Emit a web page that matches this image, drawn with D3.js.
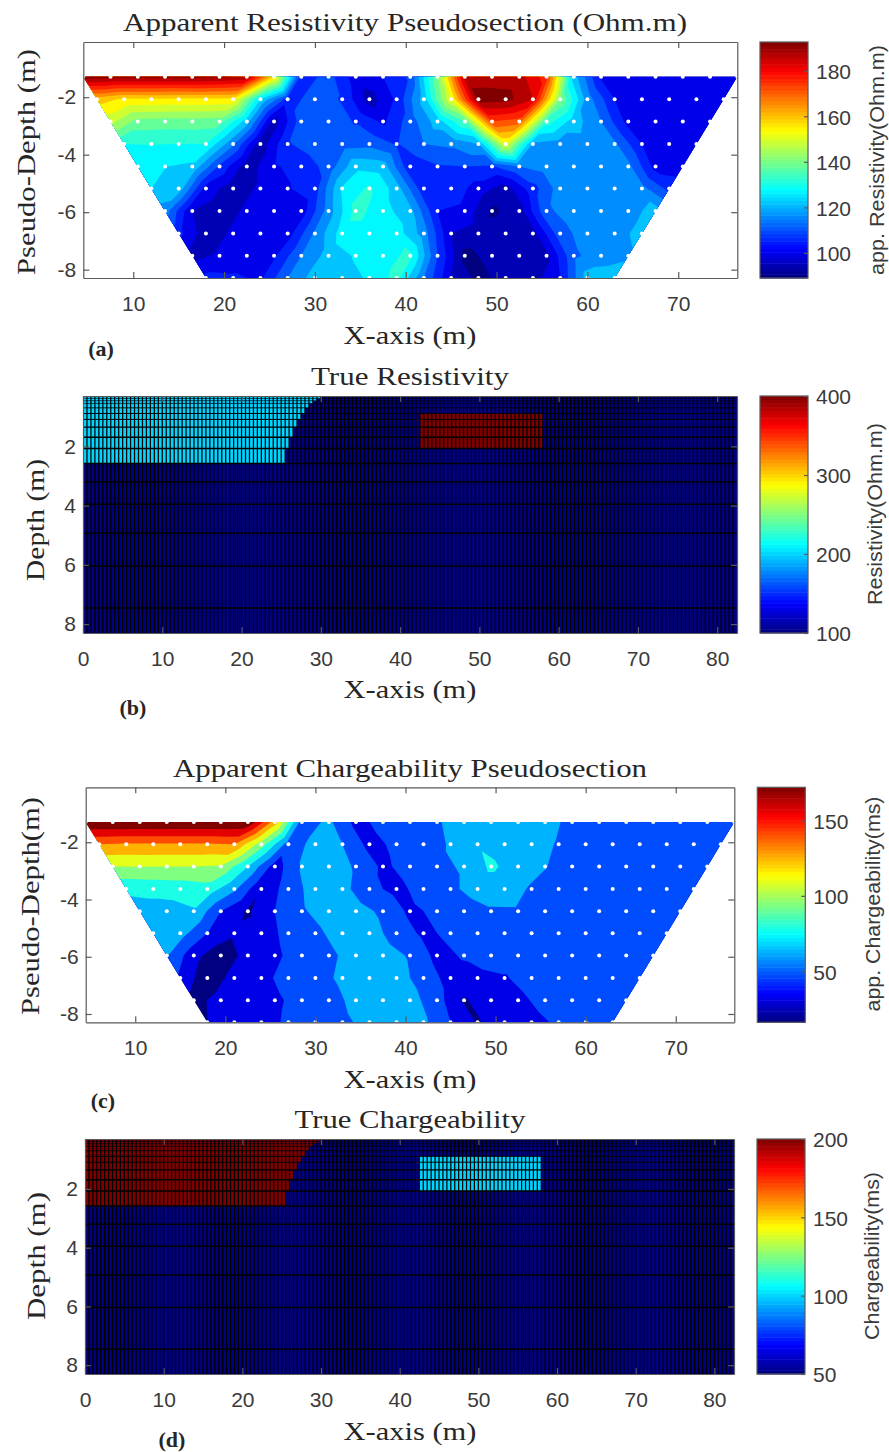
<!DOCTYPE html>
<html>
<head>
<meta charset="utf-8">
<script src="https://cdn.jsdelivr.net/npm/d3@7"></script>
<style>
  html, body { margin: 0; background: #fff; }
  svg { display: block; }
  .tick text { font-family: "Liberation Sans", sans-serif; font-size: 21px; fill: #3a3a3a; }
  .tick line, .domain { stroke: #5a5a5a; stroke-width: 1.2px; }
</style>
</head>
<body>
<div id="chart"></div>
<script>
// pseudosection rows: row i starts at pseudoStart[i], stations every 3 m
const pseudoDepth = [-1.29, -2.07, -2.85, -3.63, -4.41, -5.18, -5.96, -6.74, -7.52, -8.29];
const pseudoStart = [4.5, 6, 7.5, 9, 10.5, 12, 13.5, 15, 16.5, 18];
const stationStep = 3;

const appResistivity = [
  [190.4, 189.4, 189.4, 189.2, 189.4, 188.8, 186.8, 156.6, 106.7, 111.9, 102, 104.6, 110.8, 141, 185.2, 185.4, 185, 174.8, 122.8, 103.6, 101, 100.8, 101.2, 101, 100.9],
  [159.2, 155.6, 155.8, 155.5, 155.6, 155, 125.4, 107.2, 112.4, 109.3, 96.8, 105.6, 122.8, 151.4, 190.4, 189.9, 182.6, 141, 117.6, 104.6, 101, 101.2, 100.9, 101],
  [148, 139, 138.5, 138.6, 138, 122.8, 96.8, 112.4, 112.9, 109.3, 103.6, 112.4, 122.8, 135.8, 172.2, 169.6, 133.2, 122.8, 115, 102.5, 101, 101.1, 104.1],
  [130.6, 130.8, 130.5, 130.6, 116, 96.3, 109.3, 112.9, 112.8, 113.4, 109.3, 115, 116, 120.2, 151.4, 119.2, 117.6, 117.8, 116, 104.6, 101.5, 104.1],
  [125.4, 125.5, 124.4, 108.8, 96.3, 104.1, 106.2, 111.9, 124, 122.8, 105.6, 109.3, 109.8, 109.3, 115, 117.6, 117.7, 117.4, 116.6, 102.5, 101.5],
  [125.4, 123.3, 102.5, 96.3, 100.4, 104.1, 107.7, 126, 131.6, 122.8, 106.2, 108.2, 102, 96.8, 107.7, 117.6, 117.8, 117.5, 116.6, 108.2],
  [117.6, 99.4, 96.3, 100.4, 100.5, 101.5, 117.6, 132.7, 127.5, 121.8, 104.6, 103, 93.2, 96.8, 114, 117.6, 117.7, 117.5, 122.8],
  [106.2, 96.3, 100.4, 100.5, 102, 116, 128, 128, 128.2, 117.6, 99.4, 96.8, 96.9, 97.3, 112.9, 117.6, 117.7, 122.3],
  [97.3, 100.4, 101, 103.6, 115, 122.3, 126, 128, 132.2, 109.8, 92.6, 95.8, 96.3, 97.8, 114, 117.6, 119.2],
  [106.2, 105.6, 103.6, 115, 122.8, 123.3, 126, 132.7, 115, 99.4, 92.6, 96.3, 96.8, 104.6, 122.8, 123.3]
];

const appChargeability = [
  [172, 172, 171.8, 172, 171.9, 171.6, 170.6, 122.4, 51.5, 61.4, 40.1, 48.6, 51.5, 57.1, 65.6, 65.5, 65.8, 64.2, 54.3, 51.5, 51.8, 51.3, 51.6, 51.4, 51.5],
  [129.4, 128, 128.1, 127.9, 128, 129.4, 94, 51.5, 62.8, 58.5, 40.1, 47.2, 51.5, 60, 71.5, 65.7, 65.4, 57.1, 51.5, 51.6, 51.8, 51.3, 51.5, 51.4],
  [101, 101.2, 101, 100.9, 99.7, 72.7, 37.3, 60, 65.6, 57.1, 41.5, 50, 55.7, 60, 75.5, 65.6, 59.2, 51.5, 51.7, 51.4, 51.5, 51.6, 51.3],
  [75.6, 77, 78.4, 81.2, 61.4, 31.6, 51.5, 64.2, 62.8, 48.6, 40.1, 50, 55.7, 64.2, 64.3, 57.1, 51.5, 51.7, 51.4, 51.6, 51.3, 51.5],
  [67, 67.2, 71.3, 44.4, 28, 44.4, 57.1, 64.2, 64.3, 55.7, 41.5, 47.2, 51.5, 57.1, 57.3, 51.5, 51.6, 51.4, 51.5, 51.7, 51.4],
  [62.8, 64.2, 44.4, 33, 37.3, 48.6, 55.7, 64.2, 64.4, 52.9, 41.5, 47.2, 51.5, 51.6, 51.4, 51.5, 51.7, 51.3, 51.5, 51.6],
  [60, 35, 20, 35.9, 41.5, 51.5, 55.7, 64.2, 64.4, 57.1, 40.1, 45.8, 51.5, 51.6, 51.4, 51.5, 51.7, 51.3, 51.5],
  [41.5, 20, 36, 40.1, 50, 52.9, 61.4, 64.2, 64.3, 52.9, 38.7, 40.1, 42.9, 51.5, 51.6, 51.4, 51.5, 51.7],
  [25, 35.9, 37.3, 41.5, 50, 52.9, 62.8, 65.6, 64.2, 50, 28.8, 37.3, 40.1, 50, 51.5, 51.6, 51.4],
  [30, 37.3, 37.4, 47.2, 51.5, 55.7, 62.8, 65.6, 61.4, 44.4, 28.8, 38.7, 38.9, 47.2, 51.5, 51.6]
];

// true model mesh
const meshDepth = [0.3, 0.38, 0.46, 0.55, 0.7, 0.89, 1.09, 1.35, 1.69, 2.07, 2.58, 3.2, 3.95, 4.93, 6.04, 7.46, 8.3];
const meshWidth = 0.5;
const meshRight = 82.5;
const blockEnd = [30, 29.5, 29, 28.5, 28, 27.5, 27, 26.5, 26, 25.5]; // right edge of the left block per layer
const bodyX = [42.5, 58];
const bodyLayers = [5, 8]; // first and last layer of the buried body

const resBackground = 100, resBlock = 200, resBody = 400;
const chgBackground = 50, chgBlock = 200, chgBody = 100;

const pseudoXTicks = [10, 20, 30, 40, 50, 60, 70];
const pseudoYTicks = [-2, -4, -6, -8];
const trueXTicks = [0, 10, 20, 30, 40, 50, 60, 70, 80];
const trueYTicks = [2, 4, 6, 8];

const W = 889, H = 1452;
const svg = d3.select("#chart").append("svg").attr("width", W).attr("height", H);
const clamp01 = t => Math.max(0, Math.min(1, t));

function jet(t) {
  const c = k => Math.round(255 * clamp01(1.5 - Math.abs(4 * t - k)));
  return d3.rgb(c(3), c(2), c(1)).formatHex();
}

function addText(str, x, y, o) {
  const t = svg.append("text").attr("x", x).attr("y", y).text(str)
    .attr("text-anchor", o.anchor || "middle")
    .attr("dominant-baseline", "central")
    .attr("font-family", o.family)
    .attr("font-size", o.size)
    .attr("fill", o.fill || "#262626");
  if (o.weight) t.attr("font-weight", o.weight);
  if (o.len) t.attr("textLength", o.len).attr("lengthAdjust", "spacingAndGlyphs");
  if (o.rotate) t.attr("transform", `rotate(-90,${x},${y})`);
}
const serif = "'Liberation Serif', serif";
const sans = "'Liberation Sans', sans-serif";

// box with inward ticks on all sides, MATLAB style
function drawAxes(g, x, y, xTicks, yTicks) {
  const [x0, x1] = x.range(), [y0, y1] = y.range();
  g.append("g").attr("transform", `translate(0,${y1})`)
    .call(d3.axisBottom(x).tickValues(xTicks).tickSize(-6).tickPadding(18).tickSizeOuter(0).tickFormat(String));
  g.append("g").attr("transform", `translate(0,${y0})`)
    .call(d3.axisTop(x).tickValues(xTicks).tickSize(-6).tickSizeOuter(0).tickFormat(""));
  g.append("g").attr("transform", `translate(${x0},0)`)
    .call(d3.axisLeft(y).tickValues(yTicks).tickSize(-6).tickPadding(7).tickSizeOuter(0).tickFormat(String));
  g.append("g").attr("transform", `translate(${x1},0)`)
    .call(d3.axisRight(y).tickValues(yTicks).tickSize(-6).tickSizeOuter(0).tickFormat(""));
  g.selectAll(".domain").attr("fill", "none");
}

function colorbar(box, domain, ticks, label, labelX, labelY, labelLen) {
  const g = svg.append("g");
  const y = d3.scaleLinear().domain(domain).range([box.bottom, box.top]);
  const steps = d3.range(64);
  const band = d3.scaleBand().domain(steps).range([box.bottom, box.top]);
  g.selectAll("rect").data(steps).join("rect")
    .attr("x", box.left).attr("width", box.right - box.left)
    .attr("y", d => band(d)).attr("height", band.bandwidth() + 0.5)
    .attr("fill", d => jet((d + 0.5) / 64));
  g.append("rect").attr("x", box.left).attr("y", box.top)
    .attr("width", box.right - box.left).attr("height", box.bottom - box.top)
    .attr("fill", "none").attr("stroke", "#5a5a5a").attr("stroke-width", 1.2);
  const axis = g.append("g").attr("transform", `translate(${box.right},0)`)
    .call(d3.axisRight(y).tickValues(ticks).tickSize(-4).tickPadding(8).tickSizeOuter(0).tickFormat(String));
  axis.select(".domain").remove();
  axis.selectAll("text").attr("dy", "0.38em");
  addText(label, labelX, labelY, { family: sans, size: 20, rotate: true, fill: "#3a3a3a", len: labelLen });
}

// filled contours on the triangulated stations: one path per level, painted low to high
function clipAbove(tri, level) {
  const out = [];
  tri.forEach((p, i) => {
    const q = tri[(i + 1) % 3];
    if (p[2] >= level) out.push(p);
    if ((p[2] >= level) !== (q[2] >= level)) {
      const t = (level - p[2]) / (q[2] - p[2]);
      out.push([p[0] + t * (q[0] - p[0]), p[1] + t * (q[1] - p[1]), level]);
    }
  });
  return out;
}

function pseudosection(box, values, levelMin, levelMax, bands) {
  const x = d3.scaleLinear().domain([4.5, 76.5]).range([box.left, box.right]);
  const y = d3.scaleLinear().domain([-0.08, -8.29]).range([box.top, box.bottom]);
  const pts = [];
  values.forEach((row, i) => row.forEach((v, j) => {
    pts.push([x(pseudoStart[i] + stationStep * j), y(pseudoDepth[i]), v]);
  }));
  const tris = d3.Delaunay.from(pts).triangles;
  const g = svg.append("g");
  const clipId = "clip" + Math.round(box.top);
  g.append("clipPath").attr("id", clipId).append("rect")
    .attr("x", box.left).attr("y", box.top)
    .attr("width", box.right - box.left).attr("height", box.bottom - box.top);
  const step = (levelMax - levelMin) / bands;
  d3.range(bands).forEach(k => {
    const level = k === 0 ? -Infinity : levelMin + k * step;
    const path = d3.path();
    for (let t = 0; t < tris.length; t += 3) {
      const poly = clipAbove([pts[tris[t]], pts[tris[t + 1]], pts[tris[t + 2]]], level);
      if (poly.length < 3) continue;
      poly.forEach((p, n) => n ? path.lineTo(p[0], p[1]) : path.moveTo(p[0], p[1]));
      path.closePath();
    }
    g.append("path").attr("d", path.toString()).attr("fill", jet(k / (bands - 1)));
  });
  g.append("g").attr("clip-path", `url(#${clipId})`)
    .selectAll("circle").data(pts).join("circle")
    .attr("cx", d => d[0]).attr("cy", d => d[1]).attr("r", 2).attr("fill", "#fff");
  drawAxes(svg.append("g"), x, y, pseudoXTicks, pseudoYTicks);
}

function trueModel(box, background, block, body, range) {
  const x = d3.scaleLinear().domain([0, meshRight]).range([box.left, box.right]);
  const y = d3.scaleLinear().domain([0.3, 8.3]).range([box.top, box.bottom]);
  const g = svg.append("g");
  const layers = d3.range(meshDepth.length - 1);
  const color = v => jet((v - range[0]) / (range[1] - range[0]));
  g.append("rect").attr("x", box.left).attr("y", box.top)
    .attr("width", box.right - box.left).attr("height", box.bottom - box.top)
    .attr("fill", color(background));
  g.selectAll("rect.block").data(blockEnd).join("rect").attr("class", "block")
    .attr("x", x(0)).attr("width", d => x(d) - x(0))
    .attr("y", (d, i) => y(meshDepth[i])).attr("height", (d, i) => y(meshDepth[i + 1]) - y(meshDepth[i]))
    .attr("fill", color(block));
  g.append("rect").attr("x", x(bodyX[0])).attr("width", x(bodyX[1]) - x(bodyX[0]))
    .attr("y", y(meshDepth[bodyLayers[0]])).attr("height", y(meshDepth[bodyLayers[1] + 1]) - y(meshDepth[bodyLayers[0]]))
    .attr("fill", color(body));
  const columns = d3.range(1, Math.round(meshRight / meshWidth));
  g.selectAll("line.v").data(columns).join("line").attr("class", "v")
    .attr("x1", d => x(d * meshWidth)).attr("x2", d => x(d * meshWidth))
    .attr("y1", box.top).attr("y2", box.bottom)
    .attr("stroke", "#000").attr("stroke-width", 1.25);
  // thin layers near the top get thinner lines or the block turns black
  g.selectAll("line.h").data(layers.slice(1)).join("line").attr("class", "h")
    .attr("x1", box.left).attr("x2", box.right)
    .attr("y1", d => y(meshDepth[d])).attr("y2", d => y(meshDepth[d]))
    .attr("stroke", "#000")
    .attr("stroke-width", d => Math.min(1.5, 0.25 + 0.12 * (y(meshDepth[d]) - y(meshDepth[d - 1]))));
  drawAxes(svg.append("g"), x, y, trueXTicks, trueYTicks);
}

// (a)
pseudosection({ left: 83.3, right: 737.3, top: 42, bottom: 278 }, appResistivity, 89, 193, 20);
colorbar({ left: 760, right: 808, top: 42, bottom: 278 }, [89, 192.6], [100, 120, 140, 160, 180], "app. Resistivity(Ohm.m)", 877, 160, 230);
addText("Apparent Resistivity Pseudosection (Ohm.m)", 405, 22, { family: serif, size: 26, len: 564 });
addText("X-axis (m)", 410, 335, { family: serif, size: 26, len: 133 });
addText("Pseudo-Depth (m)", 26, 162, { family: serif, size: 26, rotate: true, len: 226 });
addText("(a)", 101, 348, { family: serif, size: 22, weight: "bold" });

// (b)
trueModel({ left: 83, right: 737, top: 396, bottom: 633 }, resBackground, resBlock, resBody, [100, 400]);
colorbar({ left: 760, right: 808, top: 396, bottom: 633 }, [100, 400], [100, 200, 300, 400], "Resistivity(Ohm.m)", 875, 514, 182);
addText("True Resistivity", 410, 376, { family: serif, size: 26, len: 198 });
addText("X-axis (m)", 410, 689, { family: serif, size: 26, len: 133 });
addText("Depth (m)", 35, 520, { family: serif, size: 26, rotate: true, len: 122 });
addText("(b)", 133, 707, { family: serif, size: 22, weight: "bold" });

// (c)
pseudosection({ left: 85.7, right: 734.3, top: 787.3, bottom: 1022.3 }, appChargeability, 16, 172, 11);
colorbar({ left: 757.3, right: 805.3, top: 787.3, bottom: 1022.3 }, [15.9, 172.2], [50, 100, 150], "app. Chargeability(ms)", 873, 904, 215);
addText("Apparent Chargeability Pseudosection", 410, 768, { family: serif, size: 26, len: 474 });
addText("X-axis (m)", 410, 1079, { family: serif, size: 26, len: 133 });
addText("Pseudo-Depth(m)", 30, 906, { family: serif, size: 26, rotate: true, len: 218 });
addText("(c)", 103, 1100, { family: serif, size: 22, weight: "bold" });

// (d)
trueModel({ left: 85, right: 734, top: 1139, bottom: 1374 }, chgBackground, chgBlock, chgBody, [50, 200]);
colorbar({ left: 757, right: 805, top: 1139, bottom: 1374 }, [50, 200], [50, 100, 150, 200], "Chargeability(ms)", 872, 1256, 168);
addText("True Chargeability", 410, 1119, { family: serif, size: 26, len: 231 });
addText("X-axis (m)", 410, 1431, { family: serif, size: 26, len: 133 });
addText("Depth (m)", 36, 1256, { family: serif, size: 26, rotate: true, len: 128 });
addText("(d)", 172, 1439, { family: serif, size: 22, weight: "bold" });
</script>
</body>
</html>
